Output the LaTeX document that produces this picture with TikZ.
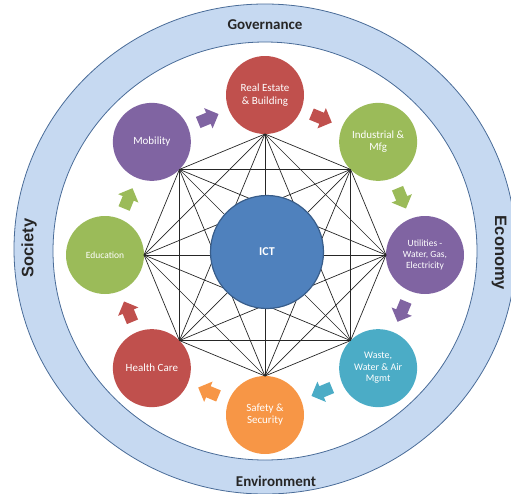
\documentclass[tikz,border=0pt]{standalone}
\usepackage{fontspec}
\setmainfont{Carlito}
\newfontfamily\arialfont{Liberation Sans}
\usetikzlibrary{calc}
\definecolor{ringfill}{HTML}{C6D9F1}
\definecolor{ringline}{HTML}{4A6C98}
\definecolor{cred}{HTML}{C0504D}
\definecolor{cgreen}{HTML}{9BBB59}
\definecolor{cpurple}{HTML}{8064A2}
\definecolor{cteal}{HTML}{4BACC6}
\definecolor{corange}{HTML}{F79646}
\definecolor{cblue}{HTML}{4F81BD}
\definecolor{cblueline}{HTML}{385D8A}
\tikzset{
  sat/.style={circle, fill=#1, minimum size=78pt, inner sep=0pt, outer sep=0pt,
    text=white, align=center},
  link/.style={draw=black!85, line width=0.7pt},
  ringlabel/.style={font=\bfseries\fontsize{15}{15}\selectfont, text=black!85},
  sidelabel/.style={font=\arialfont\bfseries\fontsize{16.5}{16.5}\selectfont, text=black!85},
  fs/.style 2 args={font=\fontsize{#1}{#2}\selectfont},
}
\newcommand\blockarrow[2]{%
  \begin{scope}[shift={(O)}, rotate=#1, xshift=148pt, rotate=-90]
    \fill[#2] (-11,-6) -- (0,-6) -- (0,-11) -- (11,0) -- (0,11) -- (0,6) -- (-11,6) -- cycle;
  \end{scope}}
\begin{document}
\begin{tikzpicture}[x=1pt,y=1pt]
  \useasboundingbox (0,0) rectangle (511,-493);
  \clip (0,0) rectangle (511,-493);
  \coordinate (O) at (265,-255);
  % ring
  \path[fill=ringfill, draw=ringline, line width=0.8pt, even odd rule]
    (265,-249) ellipse [x radius=251pt, y radius=245pt]
    (265,-251) ellipse [x radius=212pt, y radius=209pt];
  \node[ringlabel] (gov) at (265,-25) {Governance};
  \node[ringlabel] (env) at (276,-481) {Environment};
  \node[sidelabel, rotate=90] (soc) at (29,-248) {Society};
  \node[sidelabel, rotate=-90] (eco) at (499,-253) {Economy};
  % satellites
  \node[sat=cred, fs={11}{12.5}] (re) at ($(O)+(90:160pt)$) {Real Estate\\ \& Building};
  \node[sat=cgreen, fs={11}{12.5}] (ind) at ($(O)+(45:160pt)$) {Industrial \&\\Mfg};
  \node[sat=cpurple, fs={9.5}{11}] (util) at ($(O)+(0:160pt)$) {Utilities -\\Water, Gas,\\Electricity};
  \node[sat=cteal, fs={10}{11.5}] (waste) at ($(O)+(-45:160pt)$) {Waste,\\Water \& Air\\Mgmt};
  \node[sat=corange, fs={11}{12}] (safe) at ($(O)+(-90:160pt)$) {Safety \&\\Security};
  \node[sat=cred, fs={11}{12}] (health) at ($(O)+(-135:160pt)$) {Health Care};
  \node[sat=cgreen, fs={9.5}{11}] (edu) at ($(O)+(180:160pt)$) {Education};
  \node[sat=cpurple, fs={11}{12}] (mob) at ($(O)+(135:160pt)$) {Mobility};
  % network vertices
  \coordinate (v1) at (re.270);
  \coordinate (v2) at (ind.225);
  \coordinate (v3) at (util.180);
  \coordinate (v4) at (waste.135);
  \coordinate (v5) at (safe.90);
  \coordinate (v6) at (health.45);
  \coordinate (v7) at (edu.0);
  \coordinate (v8) at (mob.315);
  \foreach \i [evaluate=\i as \k using int(\i+1)] in {1,...,7}
    \foreach \j in {\k,...,8}
      \draw[link] (v\i) -- (v\j);
  % ICT
  \node[circle, fill=cblue, draw=cblueline, line width=1.2pt, minimum size=113pt,
    inner sep=0pt, text=white, font=\bfseries\fontsize{12}{12}\selectfont] (ict) at (267,-252) {ICT};
  % block arrows
  \blockarrow{112.5}{cpurple}
  \blockarrow{67.5}{cred}
  \blockarrow{22.5}{cgreen}
  \blockarrow{-22.5}{cpurple}
  \blockarrow{-67.5}{cteal}
  \blockarrow{-112.5}{corange}
  \blockarrow{-157.5}{cred}
  \blockarrow{157.5}{cgreen}
\end{tikzpicture}
\end{document}
